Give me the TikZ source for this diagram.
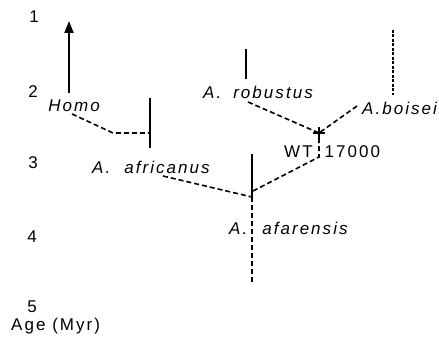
\documentclass[tikz,border=0pt]{standalone}
\usepackage{fontspec}
\setmainfont{Liberation Sans}[LetterSpace=12]
\usetikzlibrary{arrows.meta}
\begin{document}
\begin{tikzpicture}[x=1pt,y=-1pt,
  lbl/.style={font=\fontsize{17}{19}\selectfont, inner sep=0pt},
  sp/.style={font=\fontsize{17}{19}\selectfont\itshape, inner sep=0pt},
  solidln/.style={line width=1.6pt},
  dashln/.style={line width=1.6pt, dash pattern=on 5pt off 3pt},
  fineDash/.style={line width=1.4pt, dash pattern=on 3pt off 1.5pt}]
\useasboundingbox (0,0) rectangle (439,339);
% age axis
\node[lbl] (t1) at (34,17) {1};
\node[lbl] (t2) at (33,92) {2};
\node[lbl] (t3) at (33,163) {3};
\node[lbl] (t4) at (32,237) {4};
\node[lbl] (t5) at (32,307) {5};
\node[lbl, anchor=west] (age) at (11,326) {Age (Myr)};
% Homo
\coordinate (homoBot) at (69,93);
\coordinate (homoTop) at (69,21);
\draw[solidln, line width=2pt, -{Triangle[length=12pt,width=9pt]}] (homoBot) -- (homoTop);
\node[sp] (homo) at (74,106) {Homo};
\coordinate (hA) at (72,114);
\coordinate (hB) at (113,133);
\coordinate (afJ) at (150,133);
\draw[dashln] (hA) -- (hB) -- (afJ);
\coordinate (afTop) at (150,98);
\coordinate (afBot) at (150,148);
\draw[solidln] (afTop) -- (afBot);
\node[sp, anchor=west] (afr) at (92,167) {A.\hspace{14pt}africanus};
\coordinate (afrEnd) at (163,176);
% afarensis
\coordinate (fTop) at (252,154);
\coordinate (fJ) at (252,197);
\coordinate (fBot) at (252,282);
\draw[solidln] (fTop) -- (fJ);
\draw[dashln] (fJ) -- (fBot);
\draw[dashln] (afrEnd) -- (fJ);
\node[sp, anchor=west] (afa) at (229,228) {A.\hspace{15pt}afarensis};
% WT 17000
\coordinate (plus) at (319,133);
\coordinate (wBend) at (319,157);
\coordinate (fJ2) at (253,191);
\draw[dashln] (fJ2) -- (wBend) -- (plus);
\draw[solidln] (313,133) -- (325,133);
\draw[solidln] (319,127) -- (319,139);
\node[lbl, anchor=west] (wt) at (284,152) {WT\hspace{12pt}17000};
% robustus
\coordinate (rTop) at (246,49);
\coordinate (rBot) at (246,79);
\draw[solidln] (rTop) -- (rBot);
\node[sp, anchor=west] (rob) at (203,92) {A.\hspace{12pt}robustus};
\coordinate (rEnd) at (248,102);
\draw[dashln] (rEnd) -- (plus);
% boisei
\coordinate (bTop) at (393,30);
\coordinate (bBot) at (393,95);
\draw[fineDash] (bTop) -- (bBot);
\node[sp, anchor=west] (boi) at (362,108) {A.boisei};
\coordinate (bEnd) at (357,106);
\draw[dashln] (bEnd) -- (plus);
\end{tikzpicture}
\end{document}
